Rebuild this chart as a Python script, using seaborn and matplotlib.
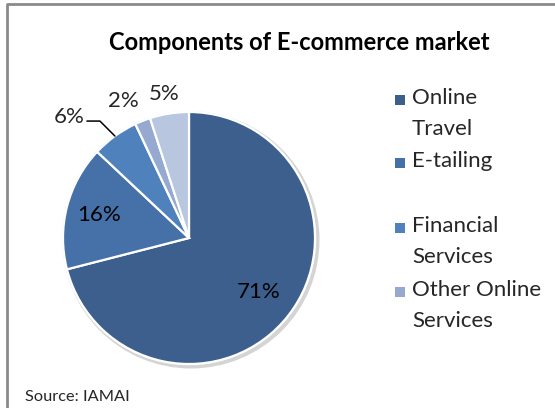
import numpy as np
import matplotlib
matplotlib.use("Agg")
import matplotlib.pyplot as plt
from matplotlib.patches import Rectangle, Circle
import seaborn as sns

# ---- data ----
categories = ["Online Travel", "E-tailing", "Financial Services", "Other Online Services", "Others"]
legend_labels = ["Online\nTravel", "E-tailing", "Financial\nServices", "Other Online\nServices"]
shares = [71, 16, 6, 2, 5]
colors = ["#3C5F8D", "#4571A8", "#4F81BD", "#95A9D1", "#B9C6E0"]
title = "Components of E-commerce market"
source = "Source: IAMAI"

sns.set_theme(style="white")
plt.rcParams["font.family"] = ["Lato", "DejaVu Sans"]

W, H = 555, 408
fig = plt.figure(figsize=(W / 100, H / 100), dpi=100)
ax = fig.add_axes([0, 0, 1, 1])

palette = sns.color_palette(colors)

cx, cy, r = 189, H - 238, 126
# soft shadow ring
ax.add_patch(Circle((cx + 2, cy - 2), r + 2.5, facecolor="#d4d4d4", edgecolor="none", zorder=0))
ax.add_patch(Circle((cx, cy), r + 1.2, facecolor="#eef1f7", edgecolor="none", zorder=0.5))

wedges, _ = ax.pie(shares, colors=palette, startangle=90, counterclock=False,
                   center=(cx, cy), radius=r,
                   wedgeprops=dict(edgecolor="white", linewidth=1.6))
for w in wedges:
    w.set_zorder(1)

ax.set_xlim(0, W)
ax.set_ylim(0, H)
ax.set_aspect("equal")
ax.axis("off")

pct_fs = 16
# inside labels for large wedges
for i, dist in [(0, 0.70), (1, 0.74)]:
    w = wedges[i]
    mid = np.deg2rad((w.theta1 + w.theta2) / 2)
    ax.text(cx + dist * r * np.cos(mid), cy + dist * r * np.sin(mid),
            f"{shares[i]}%", ha="center", va="center", fontsize=pct_fs, color="black", zorder=3)

# 6% with leader line
w = wedges[2]
mid = np.deg2rad((w.theta1 + w.theta2) / 2)
ex, ey = cx + r * np.cos(mid), cy + r * np.sin(mid)
elbow = (ex - 15, ey + 15)
ax.plot([elbow[0] - 13, elbow[0], ex], [elbow[1], elbow[1], ey], color="black", lw=1.1, zorder=3)
ax.text(elbow[0] - 15, elbow[1] + 4, f"{shares[2]}%", ha="right", va="center", fontsize=pct_fs, zorder=3)
# 2% and 5%
ax.text(123, H - 101, f"{shares[3]}%", ha="center", va="center", fontsize=pct_fs, zorder=3)
ax.text(164, H - 94, f"{shares[4]}%", ha="center", va="center", fontsize=pct_fs, zorder=3)

# title
ax.text(299, H - 42, title, ha="center", va="center", fontsize=17, fontweight="bold", color="black")

# legend (manual, Excel-style evenly spaced slots)
leg_centers = [100, 163, 228, 292]
for lab, col, ty in zip(legend_labels, palette[:4], leg_centers):
    ax.add_patch(Rectangle((395, H - ty - 5), 10, 10, facecolor=col, edgecolor="none"))
    ax.text(412, H - ty + 12, lab, ha="left", va="top", fontsize=16, linespacing=1.7)

# source
ax.text(25, H - 397, source, ha="left", va="center", fontsize=11.8)

# frame (clipped at right/bottom)
ax.plot([7, 7, W + 5], [-5, H - 4, H - 4], color="#8a8a8a", lw=2, clip_on=False)

fig.savefig("out.png", dpi=100, facecolor="white")
